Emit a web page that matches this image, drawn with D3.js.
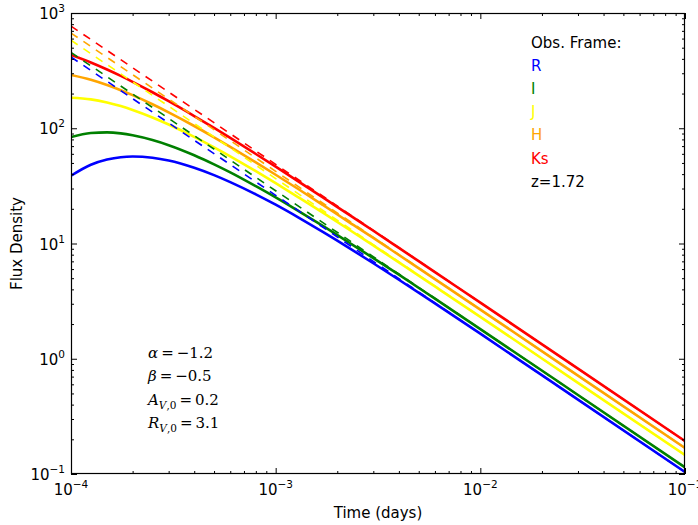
<!DOCTYPE html>
<html><head><meta charset="utf-8">
<script src="https://cdn.jsdelivr.net/npm/d3@7/dist/d3.min.js"></script>
<style>body{margin:0;background:#fff}svg{display:block}</style>
</head><body>
<svg id="chart" width="698" height="525"></svg>
<script>
// ---- data ----
const bands = ["R", "I", "J", "H", "Ks"];
const bandColors = ["#0000ff", "#008000", "#ffff00", "#ffa500", "#ff0000"];
const times = [1e-4, 1.25e-4, 1.5e-4, 1.75e-4, 2e-4, 2.5e-4, 3e-4, 4e-4, 5e-4, 6e-4, 8e-4,
               1e-3, 1.3e-3, 1.7e-3, 2.3e-3, 3e-3, 4e-3, 6e-3, 1e-2, 3e-2, 1e-1];
const solidR  = [38.7, 48.2, 53.5, 56.1, 56.8, 55.4, 52.4, 45.4, 39.2, 34.1, 26.7,
                 21.7, 16.7, 12.6, 9.08, 6.74, 4.85, 3.02, 1.65, 0.442, 0.104];
const solidI  = [84.0, 90.9, 92.0, 90.2, 86.9, 79.0, 71.3, 58.3, 48.6, 41.4, 31.4,
                 25.1, 19.0, 14.2, 10.1, 7.47, 5.36, 3.32, 1.81, 0.485, 0.114];
const solidJ  = [183.9, 178.1, 167.3, 155.6, 144.2, 124.1, 107.8, 84.2, 68.3, 57.1, 42.4,
                 33.4, 25.0, 18.5, 13.1, 9.61, 6.86, 4.24, 2.31, 0.618, 0.146];
const solidH  = [290.0, 263.4, 237.3, 214.0, 193.9, 161.6, 137.5, 104.6, 83.5, 69.0, 50.6,
                 39.5, 29.4, 21.6, 15.2, 11.2, 7.95, 4.91, 2.67, 0.714, 0.168];
const solidKs = [432.2, 372.2, 323.6, 284.6, 252.9, 205.3, 171.6, 127.6, 100.6, 82.4, 59.8,
                 46.4, 34.3, 25.1, 17.6, 12.9, 9.16, 5.64, 3.07, 0.820, 0.193];
const dashTimes = [1e-4, 1e-3, 1e-2, 1e-1];
const dashR  = [415, 26.2, 1.65, 0.104];
const dashI  = [455, 28.7, 1.81, 0.114];
const dashJ  = [580, 36.6, 2.31, 0.146];
const dashH  = [670, 42.3, 2.67, 0.168];
const dashKs = [770, 48.6, 3.07, 0.193];
const xTicks = [1e-4, 1e-3, 1e-2, 1e-1];
const xTickExp = ["-4", "-3", "-2", "-1"];
const yTicks = [1e-1, 1, 10, 100, 1000];
const yTickExp = ["-1", "0", "1", "2", "3"];
const legendTitle = "Obs. Frame:";
const legendNote = "z=1.72";
const xTitle = "Time (days)";
const yTitle = "Flux Density";

const solids = [solidR, solidI, solidJ, solidH, solidKs];
const dashes = [dashR, dashI, dashJ, dashH, dashKs];

// ---- layout ----
const L = 71, R = 685, T = 13, B = 474;
const svg = d3.select("#chart");
const font = "DejaVu Sans, sans-serif";
const x = d3.scaleLog().domain([1e-4, 1e-1]).range([L, R]);
const y = d3.scaleLog().domain([0.1, 1000]).range([B, T]);

svg.append("defs").append("clipPath").attr("id", "clip")
  .append("rect").attr("x", L).attr("y", T).attr("width", R - L).attr("height", B - T);

const plot = svg.append("g").attr("clip-path", "url(#clip)");
const lineGen = d3.line().x(d => x(d[0])).y(d => y(d[1])).curve(d3.curveMonotoneX);
const lineLin = d3.line().x(d => x(d[0])).y(d => y(d[1]));

solids.forEach((vals, i) => {
  plot.append("path").datum(times.map((t, k) => [t, vals[k]]))
    .attr("d", lineGen).attr("fill", "none")
    .attr("stroke", bandColors[i]).attr("stroke-width", 2.6);
});
dashes.forEach((vals, i) => {
  plot.append("path").datum(dashTimes.map((t, k) => [t, vals[k]]))
    .attr("d", lineLin).attr("fill", "none")
    .attr("stroke", bandColors[i]).attr("stroke-width", 1.6)
    .attr("stroke-dasharray", "8,7");
});

// ---- ticks (inward on all four sides) ----
const minorOf = (lo, hi) => {
  const out = [];
  for (let e = Math.log10(lo); e < Math.log10(hi); e++)
    for (let m = 2; m <= 9; m++) out.push(m * Math.pow(10, e));
  return out;
};
const xMinor = minorOf(1e-4, 1e-1);
const yMinor = minorOf(0.1, 1000);

function styleAxis(g) {
  g.select(".domain").remove();
  g.selectAll("line").attr("stroke", "#000").attr("stroke-width", 1);
  g.selectAll("text").remove();
}
svg.append("g").attr("transform", `translate(0,${B})`)
  .call(d3.axisBottom(x).tickValues(xTicks).tickSize(-6).tickFormat("")).call(styleAxis);
svg.append("g").attr("transform", `translate(0,${B})`)
  .call(d3.axisBottom(x).tickValues(xMinor).tickSize(-3).tickFormat("")).call(styleAxis);
svg.append("g").attr("transform", `translate(0,${T})`)
  .call(d3.axisTop(x).tickValues(xTicks).tickSize(-6).tickFormat("")).call(styleAxis);
svg.append("g").attr("transform", `translate(0,${T})`)
  .call(d3.axisTop(x).tickValues(xMinor).tickSize(-3).tickFormat("")).call(styleAxis);
svg.append("g").attr("transform", `translate(${L},0)`)
  .call(d3.axisLeft(y).tickValues(yTicks).tickSize(-6).tickFormat("")).call(styleAxis);
svg.append("g").attr("transform", `translate(${L},0)`)
  .call(d3.axisLeft(y).tickValues(yMinor).tickSize(-3).tickFormat("")).call(styleAxis);
svg.append("g").attr("transform", `translate(${R},0)`)
  .call(d3.axisRight(y).tickValues(yTicks).tickSize(-6).tickFormat("")).call(styleAxis);
svg.append("g").attr("transform", `translate(${R},0)`)
  .call(d3.axisRight(y).tickValues(yMinor).tickSize(-3).tickFormat("")).call(styleAxis);

svg.append("rect").attr("x", L + 0.5).attr("y", T + 0.5)
  .attr("width", R - L - 1).attr("height", B - T - 1)
  .attr("fill", "none").attr("stroke", "#000").attr("stroke-width", 1.2);

// ---- tick labels ----
xTicks.forEach((v, i) => {
  const t = svg.append("text").attr("x", x(v)).attr("y", B + 21)
    .attr("text-anchor", "middle").attr("font-family", font).attr("font-size", 15).attr("fill", "#000");
  t.append("tspan").text("10");
  t.append("tspan").attr("dy", -7).attr("font-size", 10.5).text(xTickExp[i].replace("-", "\u2212"));
});
yTicks.forEach((v, i) => {
  const t = svg.append("text").attr("x", L - 6).attr("y", y(v) + 6)
    .attr("text-anchor", "end").attr("font-family", font).attr("font-size", 15).attr("fill", "#000");
  t.append("tspan").text("10");
  t.append("tspan").attr("dy", -7).attr("font-size", 10.5).text(yTickExp[i].replace("-", "\u2212"));
});

// ---- axis titles ----
svg.append("text").attr("x", (L + R) / 2).attr("y", 518).attr("text-anchor", "middle")
  .attr("font-family", font).attr("font-size", 15).text(xTitle);
svg.append("text").attr("transform", `translate(22,${(T + B) / 2}) rotate(-90)`)
  .attr("text-anchor", "middle").attr("font-family", font).attr("font-size", 15).text(yTitle);

// ---- legend text ----
const lx = 531, ly0 = 48, lstep = 23.1;
svg.append("text").attr("x", lx).attr("y", ly0).attr("font-family", font).attr("font-size", 15)
  .attr("fill", "#000").text(legendTitle);
bands.forEach((b, i) => {
  svg.append("text").attr("x", lx).attr("y", ly0 + lstep * (i + 1)).attr("font-family", font)
    .attr("font-size", 15).attr("fill", bandColors[i]).text(b);
});
svg.append("text").attr("x", lx).attr("y", ly0 + lstep * 6).attr("font-family", font)
  .attr("font-size", 15).attr("fill", "#000").text(legendNote);

// ---- parameter annotations ----
const serif = "DejaVu Serif, Liberation Serif, serif";
const params = [
  {sym: "\u03b1", sub: null, val: "\u22121.2"},
  {sym: "\u03b2", sub: null, val: "\u22120.5"},
  {sym: "A", sub: "V,0", val: "0.2"},
  {sym: "R", sub: "V,0", val: "3.1"}
];
params.forEach((p, i) => {
  const t = svg.append("text").attr("x", 148).attr("y", 358 + i * 23.3)
    .attr("font-family", serif).attr("font-size", 15).attr("fill", "#000");
  t.append("tspan").attr("font-style", "italic").text(p.sym);
  if (p.sub) {
    t.append("tspan").attr("dy", 4).attr("font-size", 10.5).attr("font-style", "italic").text("V");
    t.append("tspan").attr("font-size", 10.5).text(",0");
    t.append("tspan").attr("dy", -4).text("\u2009=\u2009" + p.val);
  } else {
    t.append("tspan").text("\u2009=\u2009" + p.val);
  }
});
</script>
</body></html>
